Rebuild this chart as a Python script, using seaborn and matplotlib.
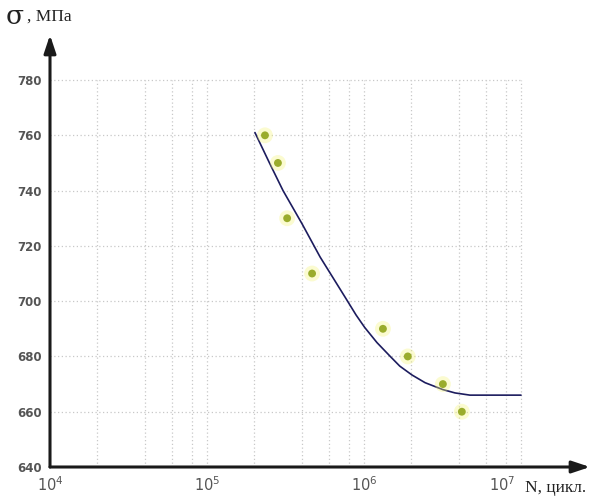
import matplotlib
matplotlib.use("Agg")
import matplotlib.pyplot as plt
import pandas as pd
import seaborn as sns

# experimental fatigue points
test_cycles = [2.34e5, 2.83e5, 3.24e5, 4.67e5, 1.32e6, 1.90e6, 3.18e6, 4.20e6]
test_stress = [760, 750, 730, 710, 690, 680, 670, 660]

# fitted fatigue curve
curve_cycles = [2.02e5, 2.50e5, 3.05e5, 4.03e5, 5.25e5, 7.76e5, 8.90e5, 1.01e6,
                1.21e6, 1.47e6, 1.69e6, 2.02e6, 2.45e6, 3.18e6, 3.80e6, 4.73e6, 1.0e7]
curve_stress = [761, 750, 740, 728, 716, 700.5, 695, 690.5,
                685, 680, 676.5, 673.3, 670.5, 668, 666.8, 666, 666]

y_ticks = [640, 660, 680, 700, 720, 740, 760, 780]
x_ticks = [1e4, 1e5, 1e6, 1e7]
x_tick_labels = [r"$10^{4}$", r"$10^{5}$", r"$10^{6}$", r"$10^{7}$"]

points = pd.DataFrame({"N": test_cycles, "sigma": test_stress})
curve = pd.DataFrame({"N": curve_cycles, "sigma": curve_stress})

sns.set_theme(style="white")
plt.rcParams["font.family"] = ["DejaVu Sans"]

W, H = 609, 497
fig = plt.figure(figsize=(W / 100, H / 100), dpi=100)
ax = fig.add_axes([50 / W, 30 / H, 540 / W, 432 / H])
ax.set_xscale("log")
ax.set_xlim(1e4, 10 ** (4 + 540 / 157))
ax.set_ylim(640, 640 + 432 / 2.764)

# dotted grid: 2,4,6,8,10 x each decade, stops at 10^7 / 780
grid_x = [m * 10 ** k for k in (4, 5, 6) for m in (2, 4, 6, 8, 10)]
ax.vlines(grid_x, 640, 780, colors="#c8c8c8", linestyles=(0, (1, 2)), lw=0.9, zorder=1)
ax.hlines(y_ticks[1:], 1e4, 1e7, colors="#c8c8c8", linestyles=(0, (1, 2)), lw=0.9, zorder=1)

# fitted curve
sns.lineplot(data=curve, x="N", y="sigma", sort=False, estimator=None,
             color="#1c1c5e", lw=1.2, ax=ax, zorder=3)

# test points with a faint yellow halo
sns.scatterplot(data=points, x="N", y="sigma", color="#f4f47a", s=130,
                alpha=0.35, edgecolor="none", ax=ax, zorder=4)
sns.scatterplot(data=points, x="N", y="sigma", color="#9aac2c", s=32,
                edgecolor="none", ax=ax, zorder=5)

for side in ax.spines.values():
    side.set_visible(False)

# axes drawn as arrows
arrow = dict(arrowstyle="-|>,head_length=0.9,head_width=0.3", color="#1a1a1a",
             lw=2.2, shrinkA=0, shrinkB=0)
ax.annotate("", xy=(1, 0), xytext=(0, 0), xycoords="axes fraction",
            arrowprops=arrow, zorder=6)
ax.annotate("", xy=(0, 1), xytext=(0, 0), xycoords="axes fraction",
            arrowprops=arrow, zorder=6)

ax.set_yticks(y_ticks)
ax.set_yticklabels([str(v) for v in y_ticks], fontsize=8.5, fontweight="bold",
                   color="#555555")
ax.tick_params(axis="y", length=0, pad=6)
ax.set_xticks([])
ax.minorticks_off()
ax.set_xlabel("")
ax.set_ylabel("")

trans = ax.get_xaxis_transform()
for xv, lab in zip(x_ticks, x_tick_labels):
    if xv == 1e7:
        ax.annotate(lab, xy=(xv, 0), xycoords=trans, xytext=(-4, -13),
                    textcoords="offset points", ha="right", va="center",
                    fontsize=10.5, color="#555555")
    else:
        ax.annotate(lab, xy=(xv, 0), xycoords=trans, xytext=(0, -13),
                    textcoords="offset points", ha="center", va="center",
                    fontsize=10.5, color="#555555")

fig.text(525 / W, 1 - 488 / H, "N, цикл.", fontsize=12.5, family="Liberation Serif",
         color="#222222", va="center", ha="left")
fig.text(6 / W, 1 - 17 / H, "σ", fontsize=19, family="DejaVu Serif",
         color="#222222", va="center", ha="left")
fig.text(27 / W, 1 - 17 / H, ", МПа", fontsize=12.5, family="Liberation Serif",
         color="#222222", va="center", ha="left")

fig.savefig("out.png", dpi=100, facecolor="white")
